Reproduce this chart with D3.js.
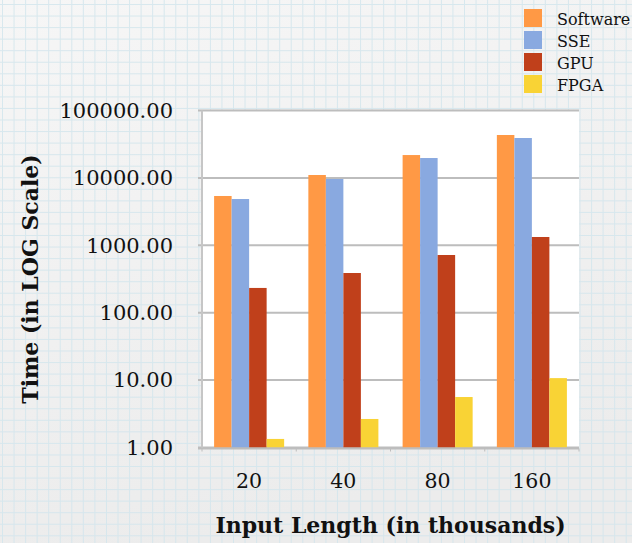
<!DOCTYPE html>
<html>
<head>
<meta charset="utf-8">
<script src="https://cdn.jsdelivr.net/npm/d3@7"></script>
<style>
  html, body { margin: 0; padding: 0; background: #f2f2f2; }
  svg { display: block; }
</style>
</head>
<body>
<svg id="chart" width="632" height="543"></svg>
<script>
// Input lengths (thousands) and implementations compared
const categories = ["20", "40", "80", "160"];
const seriesNames = ["Software", "SSE", "GPU", "FPGA"];

// Run time per implementation for each input length
const software = [5390, 11040, 21830, 43300];
const sse      = [4860, 9640, 19720, 39080];
const gpu      = [233, 388, 718, 1328];
const fpga     = [1.34, 2.65, 5.61, 10.7];

const yTickValues = [1, 10, 100, 1000, 10000, 100000];

const seriesValues = [software, sse, gpu, fpga];
const colors = ["#ff9945", "#89a9e0", "#c0401b", "#f9d335"];

const W = 632, H = 543;
const plot = { left: 202, right: 579, top: 110.5, bottom: 447.5 };

const svg = d3.select("#chart");

// graph-paper backdrop
const defs = svg.append("defs");
const bg = defs.append("linearGradient").attr("id", "bg").attr("x1", 0).attr("y1", 0).attr("x2", 0.3).attr("y2", 1);
bg.append("stop").attr("offset", "0%").attr("stop-color", "#f6f6f6");
bg.append("stop").attr("offset", "100%").attr("stop-color", "#ececec");
svg.append("rect").attr("width", W).attr("height", H).attr("fill", "url(#bg)");

const paper = svg.append("g").attr("stroke", "#d3e6ed").attr("stroke-width", 1).attr("opacity", 0.85);
const step = 11.55;
paper.selectAll("line.v").data(d3.range(2.5, W, step)).join("line")
  .attr("x1", d => d).attr("x2", d => d).attr("y1", 0).attr("y2", H);
paper.selectAll("line.h").data(d3.range(4.5, H, step)).join("line")
  .attr("y1", d => d).attr("y2", d => d).attr("x1", 0).attr("x2", W);

// scales
const x = d3.scaleBand().domain(categories).range([plot.left, plot.right])
  .paddingInner(0.257).paddingOuter(0.1285);
const xs = d3.scaleBand().domain(seriesNames).range([0, x.bandwidth()]);
const y = d3.scaleLog().domain([1, 100000]).range([plot.bottom, plot.top]);

// plot panel
svg.append("rect")
  .attr("x", plot.left).attr("y", plot.top)
  .attr("width", plot.right - plot.left).attr("height", plot.bottom - plot.top)
  .attr("fill", "#ffffff");

// horizontal grid lines at each decade
svg.append("g").selectAll("line").data(yTickValues).join("line")
  .attr("x1", plot.left - 4).attr("x2", plot.right)
  .attr("y1", d => y(d)).attr("y2", d => y(d))
  .attr("stroke", "#bdbdbd").attr("stroke-width", 2);

// bars
const groups = svg.append("g").selectAll("g").data(categories).join("g")
  .attr("transform", d => `translate(${x(d)},0)`);
groups.selectAll("rect")
  .data((c, i) => seriesNames.map((s, j) => ({ s, j, v: seriesValues[j][i] })))
  .join("rect")
  .attr("x", d => xs(d.s))
  .attr("width", xs.bandwidth())
  .attr("y", d => y(d.v))
  .attr("height", d => y(1) - y(d.v))
  .attr("fill", d => colors[d.j]);

// y axis line
svg.append("line")
  .attr("x1", plot.left).attr("x2", plot.left)
  .attr("y1", plot.top).attr("y2", plot.bottom + 1)
  .attr("stroke", "#c6c6c6").attr("stroke-width", 2);

// x axis line with ticks at category boundaries
svg.append("line")
  .attr("x1", plot.left - 4).attr("x2", plot.right)
  .attr("y1", plot.bottom + 1).attr("y2", plot.bottom + 1)
  .attr("stroke", "#bdbdbd").attr("stroke-width", 2);
const boundaries = d3.range(categories.length + 1).map(i => plot.left + i * x.step());
svg.append("g").selectAll("line").data(boundaries).join("line")
  .attr("x1", d => d).attr("x2", d => d)
  .attr("y1", plot.bottom + 1).attr("y2", plot.bottom + 4)
  .attr("stroke", "#bdbdbd").attr("stroke-width", 1);

// tick labels
const yAxis = d3.axisLeft(y).tickValues(yTickValues).tickFormat(d3.format(".2f"))
  .tickSize(0).tickPadding(plot.left - 173);
const gy = svg.append("g").attr("transform", `translate(${plot.left},0)`).call(yAxis);
gy.select(".domain").remove();
gy.selectAll("text").attr("font-family", "DejaVu Serif").attr("font-size", 21)
  .attr("fill", "#111");

const xAxis = d3.axisBottom(x).tickSize(0).tickPadding(26);
const gx = svg.append("g").attr("transform", `translate(0,${plot.bottom})`).call(xAxis);
gx.select(".domain").remove();
gx.selectAll("text").attr("font-family", "DejaVu Serif").attr("font-size", 20.5)
  .attr("fill", "#111");

// axis titles
svg.append("text")
  .attr("x", (plot.left + plot.right) / 2).attr("y", 533)
  .attr("text-anchor", "middle")
  .attr("font-family", "DejaVu Serif").attr("font-weight", "bold").attr("font-size", 22)
  .attr("fill", "#111")
  .text("Input Length (in thousands)");

svg.append("text")
  .attr("transform", `translate(37.5,${(plot.top + plot.bottom) / 2}) rotate(-90)`)
  .attr("text-anchor", "middle")
  .attr("font-family", "DejaVu Serif").attr("font-weight", "bold").attr("font-size", 22)
  .attr("fill", "#111")
  .text("Time (in LOG Scale)");

// legend
const legend = svg.append("g").attr("transform", "translate(524,9)");
const items = legend.selectAll("g").data(seriesNames).join("g")
  .attr("transform", (d, i) => `translate(0,${i * 22})`);
items.append("rect").attr("width", 18).attr("height", 18)
  .attr("fill", (d, i) => colors[i]);
items.append("text").attr("x", 33).attr("y", 15.5)
  .attr("font-family", "DejaVu Serif").attr("font-size", 16).attr("fill", "#111")
  .text(d => d);
</script>
</body>
</html>
